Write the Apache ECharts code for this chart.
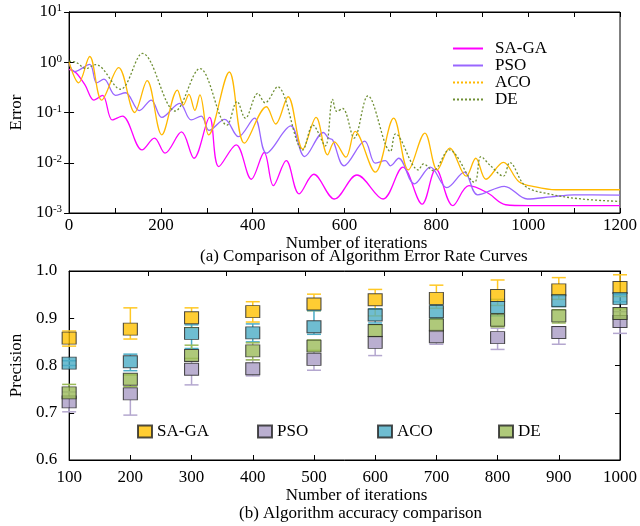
<!DOCTYPE html>
<html>
<head>
<meta charset="utf-8">
<script src="https://cdn.jsdelivr.net/npm/echarts@6/dist/echarts.min.js"></script>
<style>
html, body { margin: 0; padding: 0; background: #fff; }
#main { width: 640px; height: 526px; }
</style>
</head>
<body>
<div id="main"></div>
<script>
// ---- (a) error rate curves : [iteration, error] ----
var sagaCurve = [[0,0.72],[15,0.62],[35,0.35],[54,0.177],[73,0.22],[94,0.071],[116,0.085],[159,0.018],[186,0.031],[209,0.0155],[245,0.041],[272,0.0123],[306,0.080],[326,0.0084],[364,0.0227],[397,0.0047],[425,0.016],[445,0.0035],[473,0.011],[501,0.0024],[533,0.0059],[578,0.0019],[627,0.0057],[684,0.0019],[727,0.0082],[769,0.0015],[799,0.0075],[836,0.0014],[871,0.0035],[912,0.0025],[951,0.00146],[1000,0.0014],[1100,0.0014],[1200,0.0014]];
var psoCurve = [[0,0.95],[12,0.65],[45,0.91],[60,0.39],[76,0.46],[101,0.22],[123,0.247],[153,0.109],[179,0.177],[202,0.080],[241,0.152],[266,0.071],[288,0.085],[305,0.044],[339,0.073],[369,0.033],[404,0.077],[430,0.0155],[483,0.054],[513,0.0133],[554,0.040],[565,0.031],[574,0.0285],[599,0.0087],[644,0.027],[667,0.0098],[689,0.011],[700,0.0087],[718,0.0123],[752,0.0038],[787,0.0082],[823,0.0032],[861,0.0065],[890,0.0023],[948,0.0034],[998,0.0019],[1050,0.0021],[1100,0.0023],[1200,0.00227]];
var acoCurve = [[0,1.0],[21,0.39],[45,1.3],[71,0.177],[108,0.78],[143,0.1],[170,0.43],[202,0.036],[236,0.28],[249,0.141],[261,0.229],[274,0.11],[285,0.224],[304,0.036],[349,0.64],[382,0.0245],[430,0.13],[450,0.059],[477,0.206],[509,0.0186],[538,0.080],[563,0.0144],[578,0.026],[603,0.0129],[623,0.042],[667,0.0065],[707,0.077],[739,0.0072],[775,0.039],[802,0.0072],[829,0.0195],[865,0.0054],[886,0.0123],[908,0.0047],[946,0.0102],[980,0.0042],[1016,0.0033],[1060,0.0029],[1200,0.0029]];
var deCurve = [[0,1.05],[15,1.0],[37,0.75],[58,0.9],[112,0.29],[160,1.5],[231,0.107],[285,0.75],[344,0.056],[366,0.166],[384,0.077],[411,0.24],[427,0.156],[454,0.325],[509,0.018],[531,0.056],[558,0.0216],[574,0.183],[583,0.105],[596,0.12],[621,0.031],[651,0.214],[700,0.0168],[711,0.0375],[761,0.0072],[772,0.0095],[793,0.007],[828,0.018],[883,0.0041],[897,0.0133],[919,0.0085],[946,0.0054],[960,0.0101],[994,0.0034],[1045,0.0024],[1116,0.0019],[1200,0.0017]];

// ---- (b) accuracy : iterations, mean, lower / upper error bar ----
var iters = [100,200,300,400,500,600,700,800,900,1000];
var sagaAcc  = [0.858,0.877,0.901,0.914,0.930,0.939,0.942,0.948,0.960,0.965];
var sagaLow  = [0.841,0.856,0.880,0.892,0.916,0.905,0.921,0.927,0.940,0.946];
var sagaHigh = [0.873,0.922,0.922,0.935,0.951,0.961,0.970,0.981,0.986,0.992];
var psoAcc   = [0.723,0.740,0.792,0.793,0.813,0.849,0.861,0.859,0.870,0.893];
var psoLow   = [0.702,0.695,0.759,0.778,0.790,0.821,0.845,0.834,0.845,0.868];
var psoHigh  = [0.744,0.755,0.810,0.812,0.830,0.862,0.875,0.879,0.882,0.914];
var acoAcc   = [0.805,0.808,0.868,0.869,0.882,0.907,0.914,0.923,0.937,0.942];
var acoLow   = [0.800,0.789,0.836,0.850,0.866,0.890,0.900,0.905,0.925,0.935];
var acoHigh  = [0.810,0.824,0.886,0.888,0.916,0.920,0.928,0.940,0.950,0.950];
var deAcc    = [0.742,0.771,0.821,0.831,0.841,0.874,0.886,0.896,0.905,0.910];
var deLow    = [0.732,0.755,0.815,0.812,0.832,0.860,0.872,0.882,0.890,0.900];
var deHigh   = [0.760,0.780,0.843,0.848,0.854,0.886,0.898,0.910,0.918,0.920];

var FONT = "'Liberation Serif', 'Times New Roman', serif";
var chart = echarts.init(document.getElementById('main'));

function errBar(low, high, mid) {
	return iters.map(function (x, i) { return [x, low[i], high[i], mid[i]]; });
}

// 误差线: 只画方块以外的部分
function renderErr(params, api) {
	var c = api.coord([api.value(0), api.value(3)]);
	var lo = api.coord([api.value(0), api.value(1)]);
	var hi = api.coord([api.value(0), api.value(2)]);
	var style = { stroke: api.visual('color'), lineWidth: 1.5 };
	var kids = [];
	var hb = 6, cw = 7;
	if (hi[1] < c[1] - hb) {
		kids.push({ type: 'line', shape: { x1: c[0], y1: c[1] - hb, x2: c[0], y2: hi[1] }, style: style });
	}
	kids.push({ type: 'line', shape: { x1: c[0] - cw, y1: hi[1], x2: c[0] + cw, y2: hi[1] }, style: style });
	if (lo[1] > c[1] + hb) {
		kids.push({ type: 'line', shape: { x1: c[0], y1: c[1] + hb, x2: c[0], y2: lo[1] }, style: style });
	}
	kids.push({ type: 'line', shape: { x1: c[0] - cw, y1: lo[1], x2: c[0] + cw, y2: lo[1] }, style: style });
	return { type: 'group', children: kids };
}

var algos = [
	{ name: 'SA-GA', curve: sagaCurve, line: '#ff00ff', dash: 'solid', fill: '#ffc000', bar: '#ffc824', acc: sagaAcc, low: sagaLow, high: sagaHigh },
	{ name: 'PSO', curve: psoCurve, line: '#9966ff', dash: 'solid', fill: '#a99bc4', bar: '#b4a7cf', acc: psoAcc, low: psoLow, high: psoHigh },
	{ name: 'ACO', curve: acoCurve, line: '#ffb800', dash: 'solid', fill: '#4bacc6', bar: '#4bacc6', acc: acoAcc, low: acoLow, high: acoHigh },
	{ name: 'DE', curve: deCurve, line: '#6f8f34', dash: [2, 2], fill: '#9bbb59', bar: '#9bbb59', acc: deAcc, low: deLow, high: deHigh }
];

var series = [];
algos.forEach(function (a) {
	series.push({
		name: a.name, type: 'line', xAxisIndex: 0, yAxisIndex: 0,
		data: a.curve, smooth: 0.35, showSymbol: false, symbol: 'none',
		lineStyle: { color: a.line, width: 1.3, type: a.dash }, itemStyle: { color: a.line, opacity: 0 }
	});
});
algos.forEach(function (a) {
	series.push({
		name: 'eb:' + a.name, type: 'custom', xAxisIndex: 2, yAxisIndex: 2,
		data: errBar(a.low, a.high, a.acc), renderItem: renderErr,
		itemStyle: { color: a.bar }, z: 3, silent: true
	});
	series.push({
		name: 'b:' + a.name, type: 'scatter', xAxisIndex: 2, yAxisIndex: 2,
		data: iters.map(function (x, i) { return [x, a.acc[i]]; }),
		symbol: 'rect', symbolSize: [14, 12], clip: false, z: 3,
		itemStyle: { color: a.fill, borderColor: '#222', borderWidth: 1 }
	});
});

var axisLine = { lineStyle: { color: '#000', width: 1 } };
var tickIn = { inside: true, length: 5, lineStyle: { color: '#000' } };
var lbl = { color: '#000', fontFamily: FONT, fontSize: 17 };
var nameStyle = { color: '#000', fontFamily: FONT, fontSize: 17 };

function boxLegend(name, x) {
	return {
		left: x, top: 423, padding: 0, icon: 'rect', itemWidth: 14, itemHeight: 12, data: [name],
		formatter: function (n) { return n.slice(2); },
		textStyle: { color: '#000', fontFamily: FONT, fontSize: 17 }
	};
}

var option = {
	animation: false,
	backgroundColor: '#fff',
	grid: [
		{ left: 67, top: 12, width: 556, height: 201, show: true, borderColor: '#000', borderWidth: 1 },
		{ left: 67, top: 271, width: 557, height: 189, show: true, borderColor: '#000', borderWidth: 1 }
	],
	xAxis: [
		{ type: 'value', gridIndex: 0, min: 0, max: 1200, interval: 100,
			axisLine: axisLine, axisTick: tickIn, splitLine: { show: false },
			axisLabel: Object.assign({ margin: 4, formatter: function (v) { return v % 200 === 0 ? String(v) : ''; } }, lbl),
			name: 'Number of iterations', nameLocation: 'middle', nameGap: 13,
			nameTextStyle: Object.assign({ padding: [0, 0, 0, 24] }, nameStyle) },
		{ type: 'value', gridIndex: 0, position: 'top', min: 0, max: 1200, interval: 100,
			axisLine: axisLine, axisTick: tickIn, axisLabel: { show: false }, splitLine: { show: false } },
		{ type: 'value', gridIndex: 1, min: 100, max: 1000, interval: 100,
			axisLine: axisLine, axisTick: tickIn, splitLine: { show: false },
			axisLabel: Object.assign({ margin: 9, formatter: function (v) { return String(v); } }, lbl),
			name: 'Number of iterations', nameLocation: 'middle', nameGap: 25,
			nameTextStyle: Object.assign({ padding: [0, 0, 0, 24] }, nameStyle) },
		{ type: 'value', gridIndex: 1, position: 'top', min: 0, max: 7, interval: 1,
			axisLine: axisLine, axisTick: tickIn, axisLabel: { show: false }, splitLine: { show: false } }
	],
	yAxis: [
		{ type: 'log', gridIndex: 0, logBase: 10, min: 0.001, max: 10,
			axisLine: axisLine, axisTick: tickIn, splitLine: { show: false }, minorTick: { show: false },
			axisLabel: {
				margin: 7, color: '#000', fontFamily: FONT,
				formatter: function (v) {
					var e = Math.round(Math.log10(v));
					return '{b|10}{s|' + e + '}';
				},
				rich: {
					b: { fontFamily: FONT, fontSize: 17, color: '#000', lineHeight: 18 },
					s: { fontFamily: FONT, fontSize: 11, color: '#000', verticalAlign: 'top', lineHeight: 18, padding: [0, 0, 6, 0] }
				}
			},
			name: 'Error', nameLocation: 'middle', nameGap: 40, nameTextStyle: nameStyle },
		{ type: 'log', gridIndex: 0, logBase: 10, min: 0.001, max: 10, position: 'right',
			axisLine: axisLine, axisTick: tickIn, axisLabel: { show: false }, splitLine: { show: false } },
		{ type: 'value', gridIndex: 1, min: 0.6, max: 1.0, interval: 0.1,
			axisLine: axisLine, axisTick: tickIn, splitLine: { show: false },
			axisLabel: Object.assign({ margin: 12, formatter: function (v) { return v.toFixed(1); } }, lbl),
			name: 'Precision', nameLocation: 'middle', nameGap: 40, nameTextStyle: nameStyle },
		{ type: 'value', gridIndex: 1, min: 0.6, max: 1.0, interval: 0.1, position: 'right',
			axisLine: axisLine, axisTick: tickIn, axisLabel: { show: false }, splitLine: { show: false } }
	],
	legend: [
		{ orient: 'vertical', left: 452, top: 40, padding: 0, itemWidth: 30, itemHeight: 10, itemGap: 0,
			itemStyle: { opacity: 0 },
			data: ['SA-GA', 'PSO', { name: 'ACO', lineStyle: { type: [2, 2] } }, 'DE'],
			textStyle: { color: '#000', fontFamily: FONT, fontSize: 17, lineHeight: 15, padding: [0, 0, 0, 7] } },
		boxLegend('b:SA-GA', 137),
		boxLegend('b:PSO', 257),
		boxLegend('b:ACO', 377),
		boxLegend('b:DE', 498)
	],
	graphic: [
		{ type: 'text', left: 200, top: 248, style: { text: '(a) Comparison of Algorithm Error Rate Curves', fill: '#000', font: '17px ' + FONT } },
		{ type: 'text', left: 239, top: 505, style: { text: '(b) Algorithm accuracy comparison', fill: '#000', font: '17px ' + FONT } }
	],
	series: series
};
chart.setOption(option);
</script>
</body>
</html>
